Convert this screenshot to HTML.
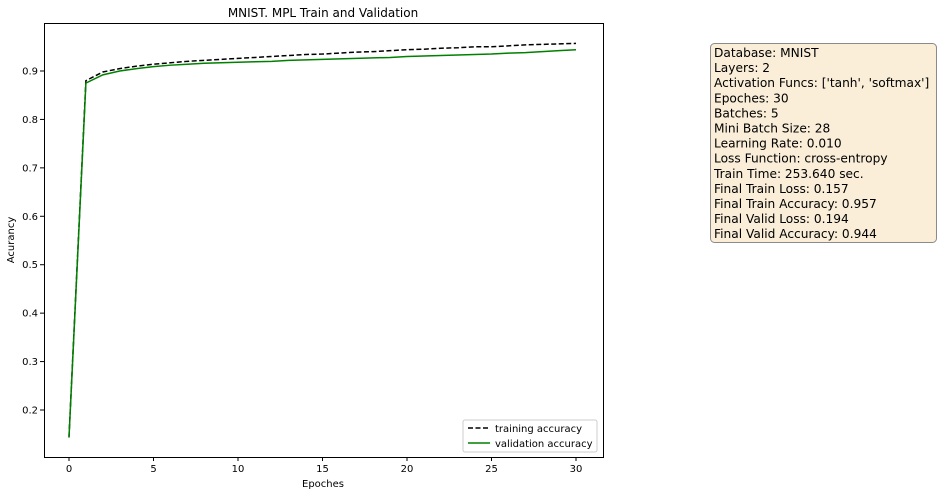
<!DOCTYPE html>
<html><head><meta charset="utf-8"><style>
body{margin:0;background:#fff;width:941px;height:496px;overflow:hidden}
svg{font-family:"DejaVu Sans","Liberation Sans",sans-serif}
</style></head><body>
<svg id="chart" width="941" height="496">
<text x="323" y="17" font-size="12" text-anchor="middle">MNIST. MPL Train and Validation</text>
<g id="plot"></g>
<text x="323" y="487" font-size="10" text-anchor="middle">Epoches</text>
<text x="14" y="240" font-size="10" text-anchor="middle" transform="rotate(-90 14 240)">Acurancy</text>
<g>
<rect x="463" y="420" width="134" height="32" rx="2" fill="#fff" stroke="#ccc"/>
<line x1="468" y1="428" x2="490" y2="428" stroke="#000" stroke-width="1.5" stroke-dasharray="5,2.5"/>
<text x="495" y="432" font-size="10">training accuracy</text>
<line x1="468" y1="443" x2="490" y2="443" stroke="#008000" stroke-width="1.5"/>
<text x="495" y="447" font-size="10">validation accuracy</text>
</g>
<g>
<rect x="710.5" y="43.5" width="226" height="199" rx="4" fill="#f5deb3" fill-opacity="0.5" stroke="#8a8a8a"/>
<g font-size="12.2" id="info"></g>
</g>
</svg>
<script>
const epochs=[0,1,2,3,4,5,6,7,8,9,10,11,12,13,14,15,16,17,18,19,20,21,22,23,24,25,26,27,28,29,30];
const trainAcc=[0.145,0.880,0.898,0.905,0.910,0.914,0.917,0.920,0.922,0.924,0.926,0.928,0.930,0.932,0.934,0.935,0.937,0.939,0.940,0.942,0.944,0.945,0.947,0.948,0.950,0.950,0.952,0.954,0.955,0.956,0.957];
const validAcc=[0.143,0.875,0.892,0.900,0.905,0.909,0.912,0.914,0.916,0.917,0.918,0.919,0.920,0.922,0.923,0.924,0.925,0.926,0.927,0.928,0.930,0.931,0.932,0.933,0.934,0.935,0.937,0.938,0.940,0.942,0.944];
const xTicks=[0,5,10,15,20,25,30];
const yTicks=[0.2,0.3,0.4,0.5,0.6,0.7,0.8,0.9];
const info=["Database: MNIST","Layers: 2","Activation Funcs: ['tanh', 'softmax']","Epoches: 30","Batches: 5","Mini Batch Size: 28","Learning Rate: 0.010","Loss Function: cross-entropy","Train Time: 253.640 sec.","Final Train Loss: 0.157","Final Train Accuracy: 0.957","Final Valid Loss: 0.194","Final Valid Accuracy: 0.944"];
const NS="http://www.w3.org/2000/svg";
const L=44,R=603,T=23,B=457;
const xs=v=>69+v*(576-69)/30;
const ys=v=>410-(v-0.2)*(410-71)/0.7;
const plot=document.getElementById('plot');
function mk(tag,attrs,parent){const e=document.createElementNS(NS,tag);for(const k in attrs)e.setAttribute(k,attrs[k]);(parent||plot).appendChild(e);return e;}
const frame=mk('rect',{x:L+0.5,y:T+0.5,width:R-L,height:B-T,fill:'none',stroke:'#000','stroke-width':1});


xTicks.forEach(t=>{const x=xs(t);
 const l=mk('line',{x1:x,y1:B,x2:x,y2:B+4,stroke:'#000'});
 
 
 const tx=mk('text',{x:x,y:B+15,'font-size':10,'text-anchor':'middle'});tx.textContent=t;
 
 
});
yTicks.forEach(t=>{const y=ys(t);
 const l=mk('line',{x1:L-4,y1:y,x2:L,y2:y,stroke:'#000'});
 
 
 const tx=mk('text',{x:L-6,y:y+3.5,'font-size':10,'text-anchor':'end'});tx.textContent=t.toFixed(1);
 
 
});
const pts=a=>a.map((v,i)=>xs(epochs[i])+','+ys(v)).join(' ');
const tl=mk('polyline',{points:pts(trainAcc),fill:'none',stroke:'#000','stroke-width':1.5,'stroke-dasharray':'5,2.5'});


const vl=mk('polyline',{points:pts(validAcc),fill:'none',stroke:'#008000','stroke-width':1.5});


const ig=document.getElementById('info');
info.forEach((s,i)=>{const t=mk('text',{x:714,y:57+i*15.1},ig);t.textContent=s;
 
 
});
</script>
</body></html>
